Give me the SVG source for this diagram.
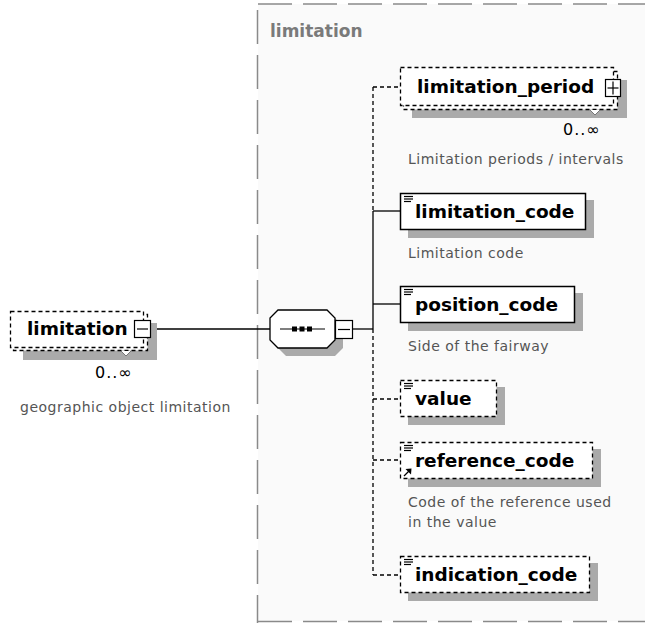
<svg xmlns="http://www.w3.org/2000/svg" width="645" height="623" viewBox="0 0 645 623">
<style>
.bg{fill:#fafafa}
.frame{fill:none;stroke:#8a8a8a;stroke-width:1.5;stroke-dasharray:34 11}
.box{fill:#fff;stroke:#000;stroke-width:1.5}
.dbox{fill:#fff;stroke:#000;stroke-width:1.3;stroke-dasharray:4 3}
.sh{fill:#aaaaaa}
.ln{stroke:#000;stroke-width:1.3;fill:none}
.dl{stroke:#000;stroke-width:1.3;fill:none;stroke-dasharray:4 3}
.name{font-family:"DejaVu Sans",Verdana,sans-serif;font-weight:bold;font-size:18.5px;fill:#000}
.title{font-family:"DejaVu Sans",Verdana,sans-serif;font-weight:bold;font-size:17px;fill:#7a7a7a}
.desc{font-family:"DejaVu Sans",Verdana,sans-serif;font-size:14px;letter-spacing:0.5px;fill:#555}
.occ{font-family:"DejaVu Sans",Verdana,sans-serif;font-size:16px;letter-spacing:1px;fill:#000}
.icon{stroke:#000;stroke-width:1.2}
.notch{fill:#fff;stroke:#777;stroke-width:1}
</style>
<defs>
<g id="eicon" class="icon">
<line x1="0" y1="0" x2="9" y2="0"/>
<line x1="0" y1="2.5" x2="9" y2="2.5"/>
<line x1="0" y1="5" x2="7" y2="5"/>
</g>
</defs>
<rect x="0" y="0" width="645" height="623" fill="#fff"/>
<rect class="bg" x="258" y="4" width="387" height="617"/>
<g id="group-frame">
<line class="frame" x1="258" y1="4" x2="645" y2="4"/>
<line class="frame" x1="257.5" y1="10" x2="257.5" y2="623"/>
<line class="frame" x1="258" y1="621.5" x2="645" y2="621.5" stroke="#bbb"/>
<text class="title" x="270" y="37">limitation</text>
</g>
<g id="connectors">
<line class="ln" x1="151" y1="329" x2="270" y2="329"/>
<line class="ln" x1="353" y1="329" x2="373" y2="329"/>
<line class="dl" x1="373" y1="87" x2="373" y2="211"/>
<line class="ln" x1="373" y1="211" x2="373" y2="329"/>
<line class="dl" x1="373" y1="329" x2="373" y2="575"/>
<line class="dl" x1="373" y1="87" x2="400" y2="87"/>
<line class="ln" x1="373" y1="211" x2="400" y2="211"/>
<line class="ln" x1="373" y1="304" x2="400" y2="304"/>
<line class="dl" x1="373" y1="399" x2="400" y2="399"/>
<line class="dl" x1="373" y1="460" x2="400" y2="460"/>
<line class="dl" x1="373" y1="575" x2="400" y2="575"/>
</g>
<g id="node-limitation">
<rect class="sh" x="23" y="323" width="134" height="37"/>
<rect class="dbox" x="13.5" y="314.5" width="134" height="36"/>
<rect class="dbox" x="10.5" y="311.5" width="133" height="36"/>
<path class="notch" d="M121,351 L126,356 L131,351"/>
<text class="name" x="27" y="335">limitation</text>
<rect x="134.5" y="320.5" width="16" height="17" fill="#fff" stroke="#000" stroke-width="1.2"/>
<line class="icon" x1="137" y1="329" x2="148" y2="329"/>
<text class="occ" x="95" y="378">0..∞</text>
<text class="desc" x="20" y="412">geographic object limitation</text>
</g>
<g id="sequence">
<polygon class="sh" points="286,318 335,318 343,326 343,348 335,356 286,356 278,348 278,326"/>
<polygon fill="#fff" stroke="#000" stroke-width="1.3" points="278,310 327,310 335,318 335,340 327,348 278,348 270,340 270,318"/>
<line class="icon" x1="280" y1="329" x2="325" y2="329"/>
<rect x="292" y="326.5" width="5" height="5"/>
<rect x="299.5" y="326.5" width="5" height="5"/>
<rect x="307" y="326.5" width="5" height="5"/>
<rect x="335.5" y="320.5" width="17" height="18" fill="#fff" stroke="#000" stroke-width="1.2"/>
<line class="icon" x1="338" y1="329.5" x2="350" y2="329.5"/>
</g>
<g id="node-limitation_period">
<rect class="sh" x="412" y="80" width="215" height="38"/>
<rect class="dbox" x="403.5" y="71.5" width="214" height="38"/>
<rect class="dbox" x="400.5" y="67.5" width="213" height="38"/>
<path class="notch" d="M590,110 L595,115 L600,110"/>
<text class="name" x="417" y="93">limitation_period</text>
<rect x="605.5" y="79.5" width="15" height="17" fill="#fff" stroke="#000" stroke-width="1.2"/>
<line class="icon" x1="607.5" y1="88" x2="618.5" y2="88"/>
<line class="icon" x1="613" y1="81.5" x2="613" y2="94.5"/>
<text class="occ" x="563" y="135">0..∞</text>
<text class="desc" x="408" y="164">Limitation periods / intervals</text>
</g>
<g id="node-limitation_code">
<rect class="sh" x="408" y="200" width="186" height="38"/>
<rect class="box" x="400.5" y="193.5" width="185" height="36"/>
<use href="#eicon" x="404" y="196.5"/>
<text class="name" x="415" y="218">limitation_code</text>
<text class="desc" x="408" y="258">Limitation code</text>
</g>
<g id="node-position_code">
<rect class="sh" x="408" y="293" width="175" height="38"/>
<rect class="box" x="400.5" y="286.5" width="174" height="36"/>
<use href="#eicon" x="404" y="289.5"/>
<text class="name" x="415" y="311">position_code</text>
<text class="desc" x="408" y="351">Side of the fairway</text>
</g>
<g id="node-value">
<rect class="sh" x="408" y="387" width="97" height="38"/>
<rect class="dbox" x="400.5" y="380.5" width="96" height="36"/>
<use href="#eicon" x="404" y="383.5"/>
<text class="name" x="415" y="405">value</text>
</g>
<g id="node-reference_code">
<rect class="sh" x="408" y="449" width="193" height="38"/>
<rect class="dbox" x="400.5" y="442.5" width="192" height="36"/>
<use href="#eicon" x="404" y="445.5"/>
<line class="icon" x1="404" y1="476" x2="409.5" y2="470.5" stroke-width="1.6"/>
<polygon points="411.5,468.5 405.5,469 411,474.5"/>
<text class="name" x="415" y="467">reference_code</text>
<text class="desc" x="408" y="507">Code of the reference used</text>
<text class="desc" x="408" y="527">in the value</text>
</g>
<g id="node-indication_code">
<rect class="sh" x="408" y="563" width="190" height="38"/>
<rect class="dbox" x="400.5" y="556.5" width="189" height="36"/>
<use href="#eicon" x="404" y="559.5"/>
<text class="name" x="415" y="581">indication_code</text>
</g>
</svg>
